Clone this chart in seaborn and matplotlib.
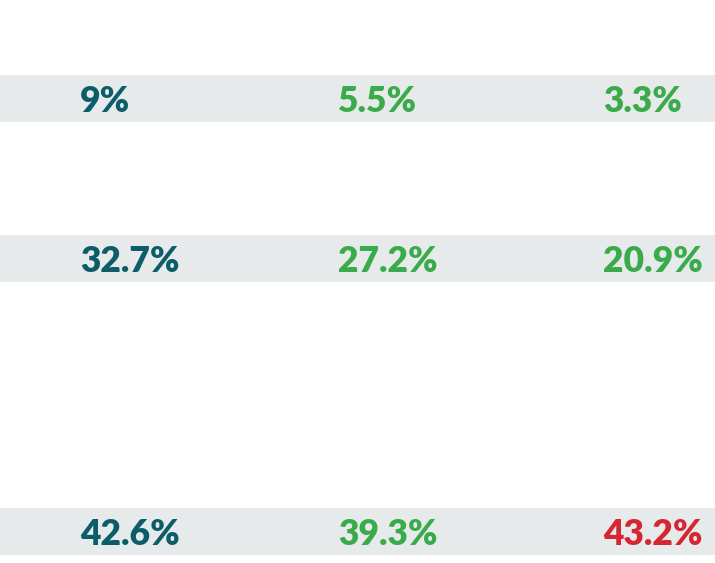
import matplotlib.pyplot as plt
import seaborn as sns

# Three survey rows, three columns of shares
rows = ['row1', 'row2', 'row3']
col1 = ['9%', '32.7%', '42.6%']
col2 = ['5.5%', '27.2%', '39.3%']
col3 = ['3.3%', '20.9%', '43.2%']
col3_colors = ['#3aab4a', '#3aab4a', '#d62631']

# layout (pixels)
band_top = [75, 235, 508]
band_h = 47
col_x = [80, 338, 603]

sns.set_theme(style='white')
plt.rcParams['font.family'] = ['Lato', 'DejaVu Sans']

fig = plt.figure(figsize=(7.15, 5.63), dpi=100)
ax = fig.add_axes([0, 0, 1, 1])
ax.set_xlim(0, 715)
ax.set_ylim(563, 0)
ax.axis('off')

for i, r in enumerate(rows):
    ax.axhspan(band_top[i], band_top[i] + band_h, color='#e6eaea', lw=0)
    yc = band_top[i] + band_h / 2 + 3
    ax.text(col_x[0], yc, col1[i], color='#0c5d69', fontsize=25.5, fontweight='heavy', va='center', ha='left')
    ax.text(col_x[1], yc, col2[i], color='#3aab4a', fontsize=25.5, fontweight='heavy', va='center', ha='left')
    ax.text(col_x[2], yc, col3[i], color=col3_colors[i], fontsize=25.5, fontweight='heavy', va='center', ha='left')

fig.savefig('out.png', dpi=100)
